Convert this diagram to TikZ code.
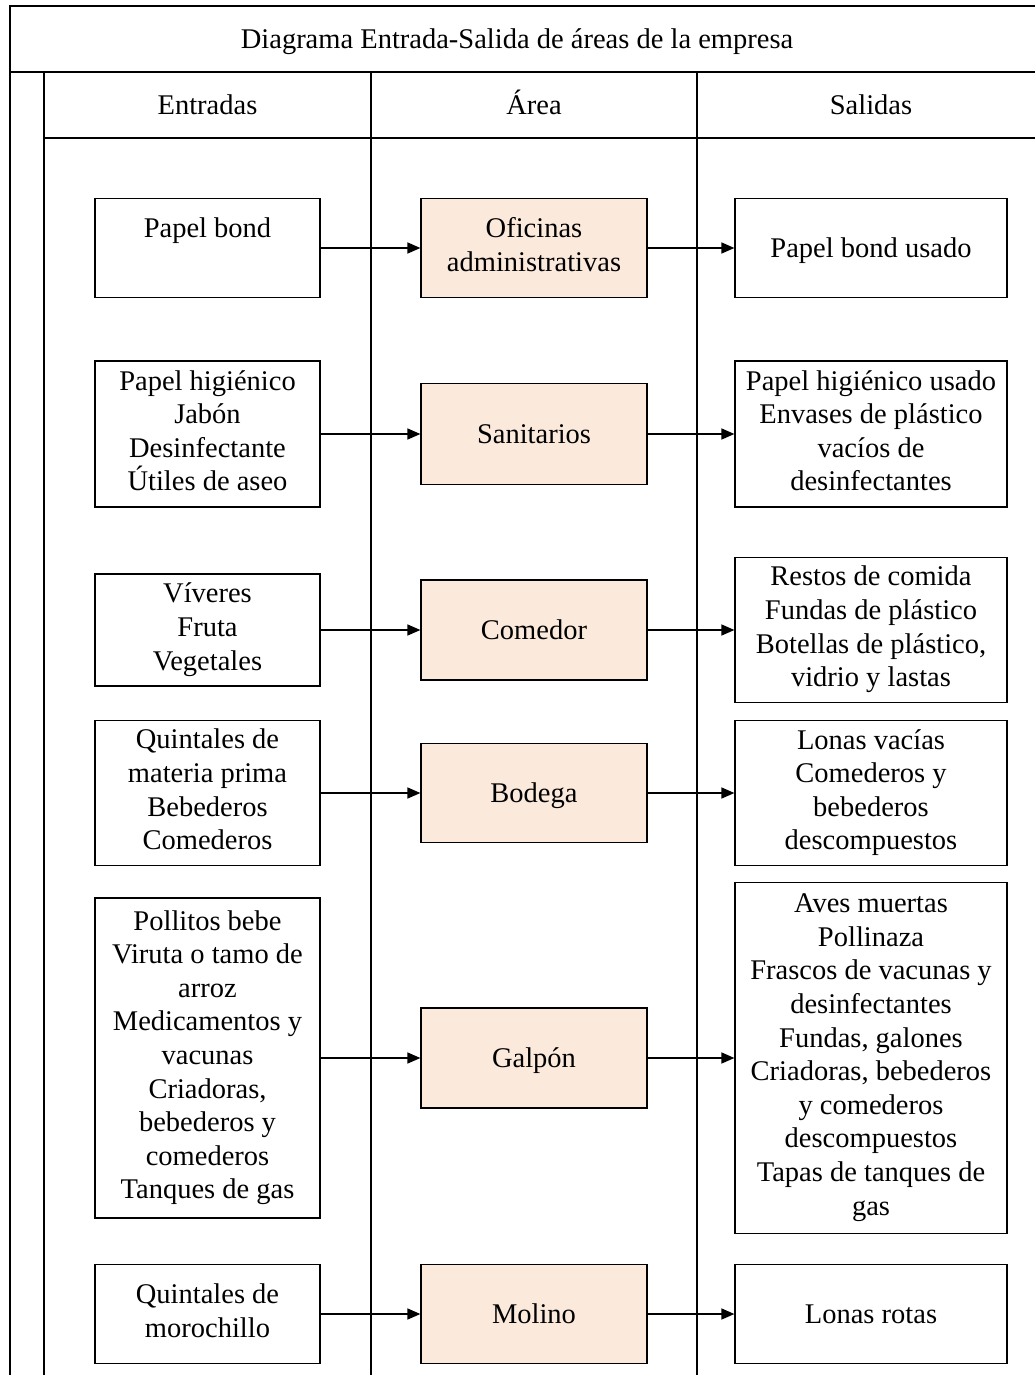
\documentclass[tikz,border=0pt]{standalone}
\usepackage{fontspec}
\setmainfont{Liberation Serif}
\usetikzlibrary{arrows.meta}
\definecolor{areafill}{RGB}{251,233,219}
% line box strut: 28.5pt type on a 33.6pt line
\newcommand\linestrut{\rule[-7pt]{0pt}{33.6pt}}
\begin{document}
\begin{tikzpicture}[x=1pt,y=-1pt,
  every node/.style={font=\fontsize{28.5}{33.6}\selectfont, align=center, inner sep=0pt,
    execute at begin node=\linestrut, execute at end node=\linestrut},
  frameline/.style={line width=1.4pt},
  boxbase/.style={draw, line width=1.2pt, minimum height=#1},
  inbox/.style={boxbase=#1, minimum width=225pt},
  areabox/.style={boxbase=#1, minimum width=226pt, fill=areafill},
  outbox/.style={boxbase=#1, minimum width=272pt},
  flow/.style={line width=1.4pt, -{Triangle[length=13pt,width=11pt]}}]
\useasboundingbox (0,0) rectangle (1035,1375);
\clip (0,0) rectangle (1035,1375);

% pool frame: title row, header row and lane separators
\draw[frameline] (10,1380) -- (10,6) -- (1045,6) -- (1045,1380);
\draw[frameline] (10,72) -- (1045,72);
\draw[frameline] (44,72) -- (44,1380);
\draw[frameline] (44,138) -- (1045,138);
\draw[frameline] (371,72) -- (371,1380);
\draw[frameline] (697,72) -- (697,1380);

\node (title) at (517,39) {Diagrama Entrada-Salida de áreas de la empresa};
\node (hin)   at (207.5,105) {Entradas};
\node (harea) at (534,105) {Área};
\node (hout)  at (871,105) {Salidas};

% row 1
\node[inbox=99pt]   (e1) at (207.5,248) {Papel bond\\\mbox{}};
\node[areabox=99pt] (a1) at (534,248) {Oficinas\\administrativas};
\node[outbox=99pt]  (s1) at (871,248) {Papel bond usado};

% row 2
\node[inbox=146pt]   (e2) at (207.5,434) {Papel higiénico\\Jabón\\Desinfectante\\Útiles de aseo};
\node[areabox=101pt] (a2) at (534,434) {Sanitarios};
\node[outbox=146pt]  (s2) at (871,434) {Papel higiénico usado\\Envases de plástico\\vacíos de\\desinfectantes};

% row 3
\node[inbox=112pt]   (e3) at (207.5,630) {Víveres\\Fruta\\Vegetales};
\node[areabox=100pt] (a3) at (534,630) {Comedor};
\node[outbox=145pt]  (s3) at (871,630) {Restos de comida\\Fundas de plástico\\Botellas de plástico,\\vidrio y lastas};

% row 4
\node[inbox=145pt]  (e4) at (207.5,793) {Quintales de\\materia prima\\Bebederos\\Comederos};
\node[areabox=99pt] (a4) at (534,793) {Bodega};
\node[outbox=145pt] (s4) at (871,793) {Lonas vacías\\Comederos y\\bebederos\\descompuestos};

% row 5
\node[inbox=320pt]   (e5) at (207.5,1058) {Pollitos bebe\\Viruta o tamo de\\arroz\\Medicamentos y\\vacunas\\Criadoras,\\bebederos y\\comederos\\Tanques de gas};
\node[areabox=100pt] (a5) at (534,1058) {Galpón};
\node[outbox=351pt]  (s5) at (871,1058) {Aves muertas\\Pollinaza\\Frascos de vacunas y\\desinfectantes\\Fundas, galones\\Criadoras, bebederos\\y comederos\\descompuestos\\Tapas de tanques de\\gas};

% row 6
\node[inbox=99pt]   (e6) at (207.5,1314) {Quintales de\\morochillo};
\node[areabox=99pt] (a6) at (534,1314) {Molino};
\node[outbox=99pt]  (s6) at (871,1314) {Lonas rotas};

% flows: inputs -> area -> outputs
\foreach \r in {1,...,6}{
  \draw[flow] (e\r.east) -- (a\r.west);
  \draw[flow] (a\r.east) -- (s\r.west);
}
\end{tikzpicture}
\end{document}
